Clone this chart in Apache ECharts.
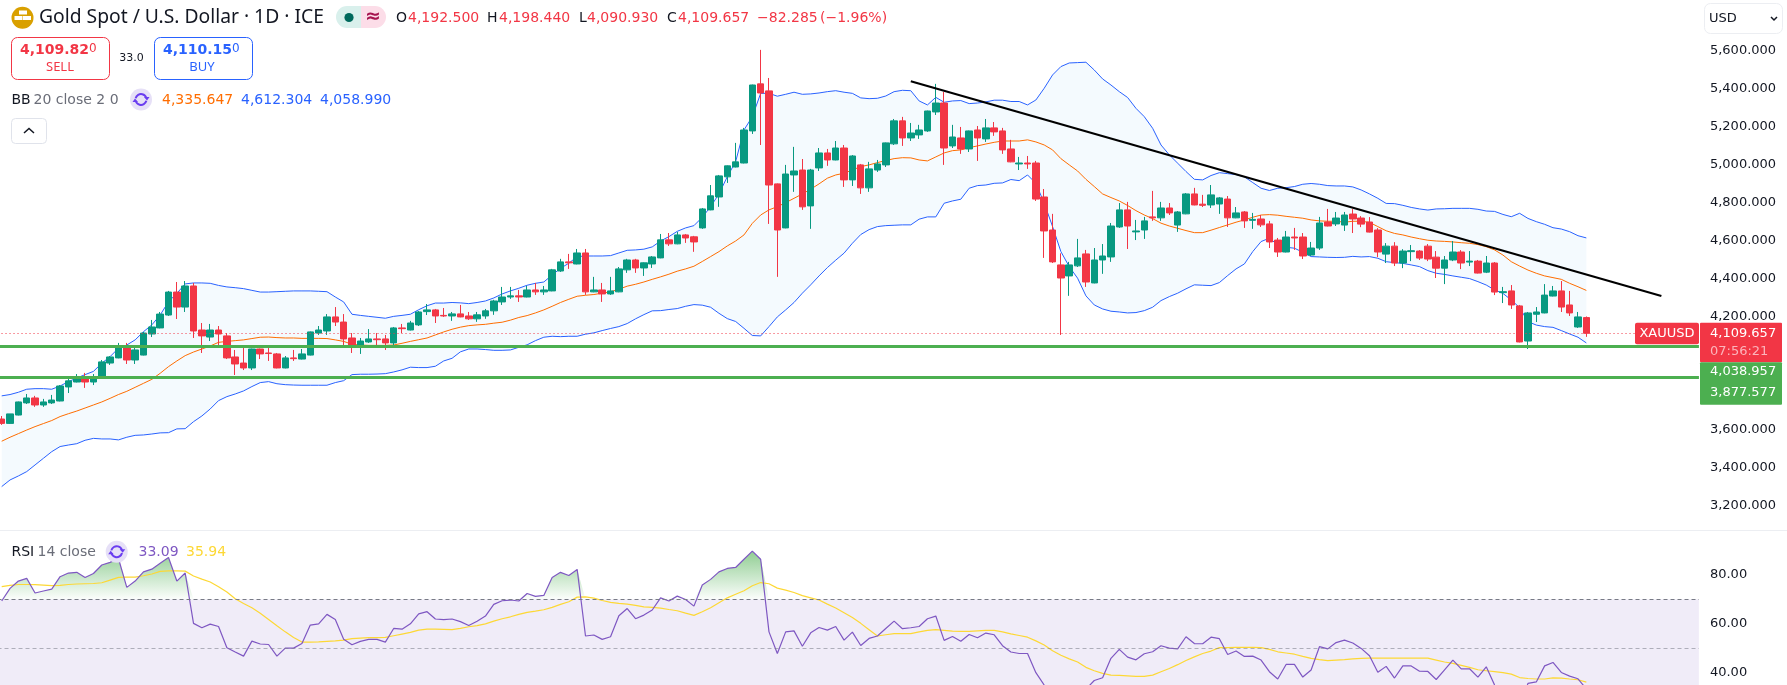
<!DOCTYPE html>
<html>
<head>
<meta charset="utf-8">
<title>Gold Spot / U.S. Dollar</title>
<script src="https://cdn.jsdelivr.net/npm/echarts@6/dist/echarts.min.js"></script>
<style>
html,body{margin:0;padding:0;background:#fff;overflow:hidden}
#chart{width:1787px;height:685px}
</style>
</head>
<body>
<div id="chart"></div>
<script>
// Daily XAUUSD sessions, oldest first
const opens = [
3658,3635,3679,3743,3769,3732,3743,3753,3827,3853,
3869,3853,3880,3953,3980,4038,3969,3995,4106,4138,
4206,4327,4248,4359,4127,4090,4127,4096,3985,3953,
3927,4027,4006,4001,3927,3980,3974,3995,4111,4122,
4196,4169,4085,4043,4064,4080,4080,4059,4138,4127,
4154,4224,4233,4204,4201,4212,4201,4186,4201,4228,
4275,4301,4307,4301,4338,4328,4333,4438,4486,4475,
4533,4328,4338,4317,4328,4444,4496,4454,4475,4507,
4602,4581,4628,4618,4665,4760,4828,4934,4986,5007,
5176,5424,5387,4897,4665,4944,4970,4781,4981,5060,
5023,5086,4918,4997,4876,4970,4997,5108,5229,5139,
5155,5176,5276,5323,5097,5139,5081,5181,5134,5192,
5176,5081,5002,5007,5007,4828,4654,4470,4412,4465,
4528,4375,4496,4512,4670,4760,4644,4654,4723,4718,
4770,4680,4739,4844,4790,4786,4791,4817,4718,4749,
4705,4712,4686,4601,4538,4617,4617,4522,4559,4696,
4686,4680,4738,4717,4696,4654,4527,4569,4480,4540,
4543,4569,4511,4453,4496,4538,4485,4490,4432,4480,
4324,4333,4254,4069,4210,4217,4306,4333,4259,4143,4192.5];
const closes = [
3635,3685,3748,3769,3732,3748,3758,3832,3859,3874,
3853,3869,3959,3985,4038,3969,4022,4111,4143,4211,
4327,4248,4359,4122,4096,4127,4106,3980,3948,3927,
4027,4001,4003,3927,3980,3976,4001,4117,4127,4196,
4169,4080,4043,4069,4080,4076,4059,4138,4134,4164,
4222,4233,4201,4201,4212,4196,4186,4207,4228,4280,
4301,4307,4301,4338,4328,4338,4444,4486,4481,4533,
4328,4338,4317,4333,4449,4496,4454,4481,4512,4602,
4581,4628,4612,4591,4765,4834,4939,4992,5013,5181,
5418,5376,4891,4654,4949,4965,4776,4970,5060,5023,
5086,4918,5044,4876,4976,5002,5113,5229,5139,5165,
5181,5281,5323,5086,5144,5081,5176,5139,5192,5171,
5076,5013,5007,5002,4817,4649,4486,4401,4470,4507,
4380,4496,4517,4675,4760,4675,4649,4702,4718,4770,
4744,4749,4844,4786,4784,4839,4823,4718,4744,4702,
4710,4681,4591,4538,4617,4612,4517,4559,4691,4675,
4717,4733,4712,4685,4643,4538,4569,4480,4543,4545,
4506,4501,4453,4496,4538,4480,4490,4427,4480,4327,
4329,4259,4064,4217,4222,4311,4333,4248,4217,4196,4109.657];
const highs = [
3674,3685,3750,3790,3780,3764,3785,3837,3869,3895,
3901,3895,3969,3990,4059,4059,4032,4117,4180,4222,
4333,4380,4385,4375,4164,4159,4148,4111,4022,4032,
4029,4029,4032,4006,3990,4022,4027,4119,4148,4211,
4248,4211,4111,4085,4132,4111,4101,4143,4159,4175,
4227,4264,4238,4243,4222,4259,4222,4222,4238,4286,
4354,4354,4338,4359,4375,4359,4449,4502,4528,4554,
4554,4407,4375,4407,4459,4502,4502,4483,4517,4633,
4638,4644,4633,4623,4770,4891,4944,4994,5113,5192,
5420,5603,5455,4899,4997,5092,5028,4976,5086,5081,
5123,5102,5049,5002,5013,5023,5115,5239,5250,5218,
5208,5283,5424,5381,5208,5197,5178,5202,5239,5223,
5192,5129,5039,5044,5018,4870,4739,4531,4486,4607,
4549,4559,4580,4691,4796,4802,4707,4723,4860,4802,
4796,4754,4849,4876,4839,4891,4828,4833,4775,4754,
4744,4733,4702,4612,4649,4665,4638,4591,4723,4765,
4749,4749,4764,4727,4722,4664,4585,4590,4553,4575,
4548,4580,4543,4517,4596,4548,4543,4496,4517,4485,
4354,4364,4259,4222,4248,4369,4359,4385,4333,4222,4198.44];
const lows = [
3627,3632,3677,3737,3722,3722,3737,3751,3795,3851,
3822,3837,3878,3943,3978,3948,3948,3993,4090,4136,
4201,4185,4222,4085,4006,4069,4048,3974,3890,3916,
3916,3974,3964,3925,3925,3964,3972,3993,4101,4101,
4148,4048,4006,4001,4059,4048,4022,4048,4111,4125,
4148,4206,4164,4196,4175,4194,4180,4170,4186,4207,
4259,4291,4275,4299,4312,4312,4331,4433,4449,4473,
4312,4326,4275,4312,4326,4428,4428,4412,4454,4505,
4570,4579,4586,4539,4660,4758,4776,4902,4984,5005,
5160,5102,4686,4407,4663,4855,4760,4660,4965,4992,
5021,4881,4886,4844,4855,4960,4986,5102,5097,5123,
5134,5171,5260,4997,5086,5055,5065,5018,5118,5150,
5055,5011,4970,4976,4807,4507,4480,4101,4307,4459,
4354,4373,4423,4486,4665,4554,4601,4607,4702,4702,
4733,4644,4737,4784,4775,4770,4739,4670,4716,4665,
4660,4670,4559,4512,4536,4549,4501,4517,4549,4673,
4675,4649,4638,4669,4641,4511,4480,4464,4453,4490,
4496,4490,4401,4369,4490,4448,4464,4425,4427,4311,
4269,4238,4062,4027,4169,4215,4304,4222,4201,4138,4090.93];

// Bollinger Bands (20, close, 2)
const bbUpper = [
3780,3787,3799,3815,3818,3818,3815,3832,3855,3874,
3892,3909,3952,3987,4031,4048,4075,4118,4154,4206,
4276,4320,4370,4375,4375,4373,4362,4354,4350,4345,
4336,4327,4327,4329,4331,4333,4333,4333,4331,4329,
4301,4275,4210,4204,4199,4194,4189,4199,4204,4210,
4234,4255,4269,4269,4272,4270,4266,4272,4280,4296,
4317,4333,4347,4363,4373,4380,4417,4452,4479,4514,
4517,4517,4517,4519,4533,4547,4549,4553,4565,4596,
4619,4647,4665,4677,4721,4777,4844,4935,5014,5181,
5251,5374,5374,5359,5369,5380,5369,5371,5376,5383,
5388,5380,5374,5350,5346,5348,5360,5383,5390,5388,
5334,5313,5353,5327,5334,5336,5320,5323,5329,5338,
5338,5331,5331,5313,5339,5401,5471,5515,5534,5536,
5538,5497,5450,5418,5383,5352,5295,5251,5190,5102,
5050,5006,4962,4921,4918,4941,4956,4951,4946,4934,
4904,4874,4862,4874,4877,4883,4895,4899,4895,4888,
4886,4886,4881,4865,4844,4821,4794,4793,4784,4773,
4765,4759,4765,4766,4768,4768,4768,4763,4754,4752,
4736,4724,4742,4715,4698,4684,4666,4659,4645,4624,4612.304];
const bbBasis = [
3541,3562,3581,3600,3618,3634,3650,3671,3686,3700,
3716,3732,3748,3767,3787,3804,3825,3846,3867,3899,
3934,3964,3992,4011,4027,4043,4062,4067,4071,4075,
4082,4089,4090,4087,4085,4085,4083,4083,4083,4082,
4075,4067,4052,4048,4046,4046,4046,4048,4057,4067,
4076,4085,4101,4117,4131,4142,4150,4154,4157,4163,
4168,4179,4193,4203,4217,4233,4252,4272,4289,4305,
4310,4314,4321,4328,4342,4358,4368,4380,4394,4407,
4421,4437,4449,4463,4488,4514,4540,4570,4596,4628,
4689,4733,4760,4777,4798,4821,4844,4869,4897,4927,
4944,4953,4970,4988,4997,5009,5020,5030,5035,5034,
5023,5018,5039,5060,5072,5076,5088,5097,5107,5116,
5123,5123,5123,5129,5118,5102,5076,5030,4997,4965,
4921,4883,4844,4825,4807,4783,4756,4733,4714,4690,
4675,4663,4651,4640,4640,4653,4667,4681,4695,4707,
4721,4733,4735,4732,4726,4721,4716,4707,4702,4700,
4700,4695,4700,4700,4694,4672,4650,4636,4628,4617,
4608,4600,4596,4594,4591,4587,4584,4577,4566,4549,
4522,4487,4464,4443,4426,4412,4403,4394,4373,4355,4335.647];
const bbLower = [
3302,3337,3358,3381,3416,3451,3486,3513,3521,3528,
3546,3556,3553,3553,3548,3562,3572,3574,3579,3585,
3586,3606,3607,3644,3674,3711,3755,3776,3790,3806,
3829,3850,3855,3844,3839,3837,3836,3836,3836,3836,
3850,3860,3892,3894,3894,3895,3897,3906,3917,3931,
3929,3929,3936,3964,3978,4012,4027,4027,4024,4020,
4020,4022,4036,4049,4071,4089,4094,4092,4094,4094,
4105,4112,4124,4135,4145,4161,4186,4208,4228,4229,
4235,4240,4252,4261,4258,4247,4215,4187,4172,4136,
4098,4096,4145,4196,4233,4272,4321,4365,4412,4456,
4495,4532,4584,4630,4656,4672,4677,4679,4681,4681,
4711,4723,4723,4795,4807,4816,4874,4888,4891,4900,
4902,4920,4914,4944,4900,4795,4672,4540,4461,4400,
4307,4259,4238,4226,4222,4217,4219,4229,4247,4282,
4303,4321,4344,4365,4363,4361,4377,4414,4449,4475,
4540,4593,4611,4575,4563,4558,4537,4514,4512,4510,
4509,4510,4515,4512,4514,4505,4487,4482,4478,4470,
4461,4440,4426,4420,4412,4405,4398,4382,4364,4338,
4320,4285,4245,4171,4153,4145,4141,4124,4106,4089,4058.99];

// RSI (14, close) and its moving average
const rsiValues = [
69.3,74.5,77.5,78.6,72.6,73.4,74.2,79.3,80.8,81.1,
79.0,80.6,84.1,85.2,86.8,74.9,77.5,81.3,82.4,84.8,
87.2,77.5,80.8,60.1,58.3,59.8,58.8,50.1,48.3,46.6,
52.8,51.6,51.4,46.6,49.9,49.9,51.8,59.4,59.9,63.8,
61.7,53.6,51.3,52.7,53.5,53.5,52.4,58.0,57.7,59.9,
64.0,64.9,61.9,61.6,61.9,60.8,59.2,61.0,63.1,67.9,
69.4,69.7,69.3,72.4,71.2,71.6,79.0,81.1,79.8,82.3,
54.9,55.3,53.5,54.6,63.2,66.2,62.0,63.5,65.6,70.6,
69.3,71.3,69.9,67.2,75.9,78.2,81.3,82.7,83.1,86.5,
89.8,86.5,56.6,47.7,56.6,57.0,50.7,56.2,58.4,57.3,
58.8,53.2,56.5,51.0,53.9,54.9,58.0,61.0,57.9,58.3,
58.8,62.0,63.1,53.1,54.7,52.7,55.5,54.2,56.1,55.4,
50.9,48.3,47.7,47.7,39.8,34.7,30.5,27.5,28.5,28.5,
33.0,36.6,37.7,45.7,49.4,46.2,45.1,47.6,48.4,50.9,
49.9,49.6,54.6,51.8,51.7,54.4,53.8,47.3,48.7,46.5,
46.6,45.0,40.2,37.2,43.2,43.2,38.0,40.9,50.5,49.6,
52.2,53.2,52.0,49.8,46.8,40.0,42.4,37.6,42.6,42.6,
40.4,40.3,37.0,41.0,45.0,41.4,41.4,38.0,42.2,34.7,
31.5,30.5,25.0,35.4,36.0,42.6,44.0,39.9,38.4,37.3,33.09];
const rsiMa = [
75.2,75.7,76.1,76.1,76.0,75.8,75.6,75.7,76.1,76.3,
76.4,76.5,76.8,77.9,79.0,79.1,79.1,79.7,80.4,81.5,
81.7,81.7,81.6,79.6,78.3,77.1,75.2,73.0,70.2,68.3,
66.5,64.3,61.7,59.1,56.6,54.3,52.4,52.4,52.5,52.7,
52.9,53.2,53.8,54.0,54.2,54.2,54.3,55.0,55.7,56.4,
57.3,57.7,57.7,57.6,57.5,58.0,58.7,59.2,59.9,61.0,
62.0,62.8,63.8,64.6,65.1,65.7,66.7,67.9,69.0,70.9,
71.0,70.5,69.5,68.7,68.3,68.0,67.5,66.9,66.7,66.4,
65.8,65.3,64.3,63.4,64.9,66.5,68.6,70.6,72.1,73.5,
75.6,76.9,76.4,74.6,73.8,72.8,71.5,70.6,69.7,68.0,
66.4,64.5,62.5,60.1,57.5,54.9,55.4,55.9,55.9,55.9,
56.6,57.2,57.5,57.2,56.9,56.8,56.8,57.0,57.2,57.2,
56.6,55.8,55.1,54.4,52.9,51.2,48.8,47.0,45.5,44.2,
42.0,40.6,39.5,38.8,38.7,38.5,38.3,38.3,38.8,40.2,
41.5,43.1,44.8,46.3,47.7,48.7,50.1,50.1,50.2,50.2,
50.2,50.1,49.4,48.4,47.9,47.4,46.5,45.7,45.2,44.8,
45.0,45.2,45.5,45.7,45.8,45.8,45.8,45.8,45.8,45.8,
45.8,45.8,45.0,44.2,43.6,42.8,42.0,41.0,40.6,40.2,
39.8,39.2,37.8,37.4,37.2,37.2,37.7,37.6,37.2,36.9,35.94];

// Horizontal support levels and the hand-drawn downtrend line
const supportLevels = [4038.957, 3877.577];
const lastPrice = 4109.657;
const trendStart = {session: 109, price: 5438};
const trendEnd = {session: 199, price: 4306};

// Axis labels
const priceTicks = [5600,5400,5200,5000,4800,4600,4400,4200,4000,3800,3600,3400,3200];
const rsiTicks = [80,60,40];

const sessionSlots = 204; // 191 sessions plus empty space on the right
const categories = Array.from({length: sessionSlots}, (_, i) => String(i));

const UP = '#089981', DOWN = '#f23645', BLUE = '#2962ff', ORANGE = '#ff6d00';
const PURPLE = '#7e57c2', YELLOW = '#fdd835', LEVEL = '#4caf50', INK = '#131722', GREY = '#6a6d78';
const FONT = '"DejaVu Sans", sans-serif';
const UI = '"Noto Sans", sans-serif';

const candles = opens.map((o, i) => [o, closes[i], lows[i], highs[i]]);
const bandWidth = bbUpper.map((u, i) => u - bbLower[i]);
const overbought = rsiValues.map(v => Math.max(v, 70));
const trendLine = categories.map((_, i) =>
  i === trendStart.session ? trendStart.price : i === trendEnd.session ? trendEnd.price : null);

const fmt = (v, d) => v.toLocaleString('en-US', {minimumFractionDigits: d, maximumFractionDigits: d});
const plain = {symbol: 'none', silent: true};

const chart = echarts.init(document.getElementById('chart'));

chart.setOption({
  animation: false,
  backgroundColor: '#fff',
  grid: [
    {left: -2.47, width: 1701.4, top: 12.5, height: 531.4, outerBoundsMode: 'none'},
    {left: -2.47, width: 1701.4, top: 526.4, height: 194.4, outerBoundsMode: 'none'}
  ],
  xAxis: [0, 1].map(g => ({type: 'category', gridIndex: g, data: categories, show: false, boundaryGap: true})),
  yAxis: [
    {
      type: 'value', gridIndex: 0, position: 'right', min: 3000, max: 5800, interval: 200,
      splitLine: {show: false}, axisLine: {show: false}, axisTick: {show: false},
      axisLabel: {
        margin: 11, color: INK, fontFamily: FONT, fontSize: 13,
        formatter: v => priceTicks.includes(v) ? fmt(v, 3) : ''
      }
    },
    {
      type: 'value', gridIndex: 1, position: 'right', min: 20, max: 100, interval: 20,
      splitLine: {show: false}, axisLine: {show: false}, axisTick: {show: false},
      axisLabel: {
        margin: 11, color: INK, fontFamily: FONT, fontSize: 13,
        formatter: v => rsiTicks.includes(v) ? fmt(v, 2) : ''
      }
    }
  ],
  series: [
    // Band fill between the outer Bollinger lines
    {type: 'line', data: bbLower, stack: 'bb', showSymbol: false, lineStyle: {width: 0}, z: 1, silent: true},
    {type: 'line', data: bandWidth, stack: 'bb', showSymbol: false, lineStyle: {width: 0},
     areaStyle: {color: 'rgba(33,150,243,0.05)', opacity: 1}, z: 1, silent: true},
    {type: 'line', name: 'Upper', data: bbUpper, showSymbol: false, lineStyle: {color: BLUE, width: 1}, z: 2, silent: true},
    {type: 'line', name: 'Lower', data: bbLower, showSymbol: false, lineStyle: {color: BLUE, width: 1}, z: 2, silent: true},
    {type: 'line', name: 'Basis', data: bbBasis, showSymbol: false, lineStyle: {color: ORANGE, width: 1}, z: 2, silent: true},
    {
      type: 'candlestick', name: 'XAUUSD', data: candles, barWidth: 7, z: 3,
      itemStyle: {color: UP, color0: DOWN, borderColor: UP, borderColor0: DOWN, borderWidth: 1}
    },
    {
      type: 'line', name: 'Trend', data: trendLine, connectNulls: true, showSymbol: false,
      lineStyle: {color: '#000', width: 2.2}, z: 6, silent: true,
      markLine: {
        ...plain,
        label: {show: false},
        data: [
          ...supportLevels.map(y => ({yAxis: y, lineStyle: {color: LEVEL, width: 3, type: 'solid'}})),
          {yAxis: lastPrice, lineStyle: {color: DOWN, width: 1, type: [1, 3]}}
        ]
      }
    },
    // RSI pane
    {
      type: 'line', name: 'Overbought', xAxisIndex: 1, yAxisIndex: 1, data: overbought, showSymbol: false,
      lineStyle: {width: 0}, z: 2, silent: true,
      areaStyle: {
        origin: 70, opacity: 1,
        color: new echarts.graphic.LinearGradient(0, 0, 0, 1, [
          {offset: 0, color: 'rgba(76,175,80,0.62)'},
          {offset: 1, color: 'rgba(76,175,80,0.02)'}
        ])
      }
    },
    {
      type: 'line', name: 'RSI', xAxisIndex: 1, yAxisIndex: 1, data: rsiValues, showSymbol: false,
      lineStyle: {color: PURPLE, width: 1.2}, z: 4, silent: true,
      markArea: {silent: true, itemStyle: {color: 'rgba(126,87,194,0.115)'}, data: [[{yAxis: 70}, {yAxis: 30}]]},
      markLine: {
        ...plain,
        label: {show: false},
        data: [
          {yAxis: 70, lineStyle: {color: '#787b86', width: 1, type: [4, 3]}},
          {yAxis: 50, lineStyle: {color: 'rgba(120,123,134,0.55)', width: 1, type: [4, 3]}}
        ]
      }
    },
    {type: 'line', name: 'RSI MA', xAxisIndex: 1, yAxisIndex: 1, data: rsiMa, showSymbol: false,
     lineStyle: {color: YELLOW, width: 1.2}, z: 3, silent: true}
  ]
});

// Overlay helpers: header text, buttons and price tags
const T = (x, y, text, fill, size = 14, extra = {}) => ({
  type: 'text', z: 100, x, y,
  style: {text, fill, font: `${extra.weight || 'normal'} ${size}px ${extra.font || FONT}`,
          textVerticalAlign: 'middle', textAlign: extra.align || 'left'}
});
const R = (x, y, w, h, fill, stroke, r = 0) => ({
  type: 'rect', z: 99, shape: {x, y, width: w, height: h, r},
  style: {fill: fill || 'none', stroke: stroke || 'none', lineWidth: stroke ? 1 : 0}
});
const syncIcon = (cx, cy) => [
  {type: 'circle', z: 99, shape: {cx, cy, r: 11}, style: {fill: '#e6e0f7'}},
  {type: 'arc', z: 100, shape: {cx, cy, r: 5.5, startAngle: -2.9, endAngle: -0.3}, style: {stroke: '#6a3df0', lineWidth: 2, fill: 'none'}},
  {type: 'arc', z: 100, shape: {cx, cy, r: 5.5, startAngle: 0.25, endAngle: 2.85}, style: {stroke: '#6a3df0', lineWidth: 2, fill: 'none'}},
  {type: 'polygon', z: 100, shape: {points: [[cx + 3, cy - 2.5], [cx + 8.5, cy - 2.5], [cx + 6, cy + 1]]}, style: {fill: '#6a3df0'}},
  {type: 'polygon', z: 100, shape: {points: [[cx - 8.5, cy + 2.5], [cx - 3, cy + 2.5], [cx - 6, cy - 1]]}, style: {fill: '#6a3df0'}}
];

const yOf = p => chart.convertToPixel({yAxisIndex: 0}, p);
const lastY = yOf(lastPrice);
const sup1 = yOf(supportLevels[0]);
const sup2 = yOf(supportLevels[1]);
const tagTop = lastY - 10.6;
const splitY = (sup1 + sup2) / 2 + 0.2;

chart.setOption({
  graphic: [
    // Pane separator
    {type: 'rect', z: 98, shape: {x: 0, y: 530, width: 1787, height: 1}, style: {fill: '#eceef2'}},

    // Instrument logo
    {type: 'circle', z: 99, shape: {cx: 22.5, cy: 17.7, r: 11}, style: {fill: '#d9a000'}},
    R(19, 10.5, 8, 4, '#fff'), R(14.5, 16, 8, 4, '#fff'), R(23, 16, 8, 4, '#fff'),
    T(39, 18, 'Gold Spot / U.S. Dollar · 1D · ICE', INK, 19.3, {font: UI}),

    // Market status pill
    R(336, 6, 25, 22, '#d9f0ec', null, [11, 0, 0, 11]),
    R(361, 6, 25, 22, '#fcdde8', null, [0, 11, 11, 0]),
    {type: 'circle', z: 100, shape: {cx: 349, cy: 17.5, r: 4.6}, style: {fill: '#00695c'}},
    T(373, 17, '≈', '#a6144f', 19, {align: 'center', weight: 'bold'}),

    // Last session OHLC
    T(396, 18, 'O', INK), T(408, 18, '4,192.500', DOWN),
    T(487, 18, 'H', INK), T(499, 18, '4,198.440', DOWN),
    T(579, 18, 'L', INK), T(587, 18, '4,090.930', DOWN),
    T(667, 18, 'C', INK), T(678, 18, '4,109.657', DOWN),
    T(757, 18, '−82.285', DOWN), T(820, 18, '(−1.96%)', DOWN),

    // Trade buttons
    R(11.5, 37.5, 98, 42, '#fff', DOWN, 6),
    T(89, 50, '4,109.82', DOWN, 14, {weight: 'bold', align: 'right'}), T(89, 49, '0', DOWN, 12),
    T(60, 67, 'SELL', DOWN, 13, {align: 'center', font: UI}),
    T(131.5, 58, '33.0', INK, 11, {align: 'center'}),
    R(154.5, 37.5, 98, 42, '#fff', BLUE, 6),
    T(232, 50, '4,110.15', BLUE, 14, {weight: 'bold', align: 'right'}), T(232, 49, '0', BLUE, 12),
    T(202, 67, 'BUY', BLUE, 13, {align: 'center', font: UI}),

    // Bollinger legend
    T(11.5, 100, 'BB', INK, 14), T(33.5, 100, '20 close 2 0', GREY, 14),
    ...syncIcon(141, 99.5),
    T(162, 100, '4,335.647', ORANGE), T(241, 100, '4,612.304', BLUE), T(320, 100, '4,058.990', BLUE),

    // Collapse toggle
    R(11.5, 118.5, 35, 25, '#fff', '#e0e3eb', 4),
    {type: 'polyline', z: 100, shape: {points: [[24, 133], [29, 128.5], [34, 133]]}, style: {stroke: INK, lineWidth: 1.5, fill: 'none'}},

    // Currency selector
    R(1704.5, 3.5, 78, 30, '#fff', '#eceef2', 6),
    T(1709, 18.5, 'USD', INK, 13),
    {type: 'polyline', z: 100, shape: {points: [[1771, 17], [1774, 20], [1777, 17]]}, style: {stroke: INK, lineWidth: 1.5, fill: 'none'}},

    // RSI legend
    T(11.5, 552, 'RSI', INK, 14), T(37.5, 552, '14 close', GREY, 14),
    ...syncIcon(116.7, 551.7),
    T(138.5, 552, fmt(rsiValues[rsiValues.length - 1], 2), PURPLE),
    T(186, 552, fmt(rsiMa[rsiMa.length - 1], 2), YELLOW),

    // Price tags on the axis
    R(1635, tagTop, 64, 21.5, DOWN, null, 2),
    T(1667, lastY, 'XAUUSD', '#fff', 13, {align: 'center'}),
    R(1700, tagTop, 82, splitY - tagTop, DOWN, null, 1),
    T(1710, lastY, fmt(lastPrice, 3), '#fff', 13),
    T(1710, lastY + 18, '07:56:21', '#fbb4bb', 13),
    R(1700, splitY, 82, 42.4, LEVEL, null, 1),
    T(1710, sup1 + 25, fmt(supportLevels[0], 3), '#fff', 13),
    T(1710, sup2 + 15, fmt(supportLevels[1], 3), '#fff', 13)
  ]
});
</script>
</body>
</html>
